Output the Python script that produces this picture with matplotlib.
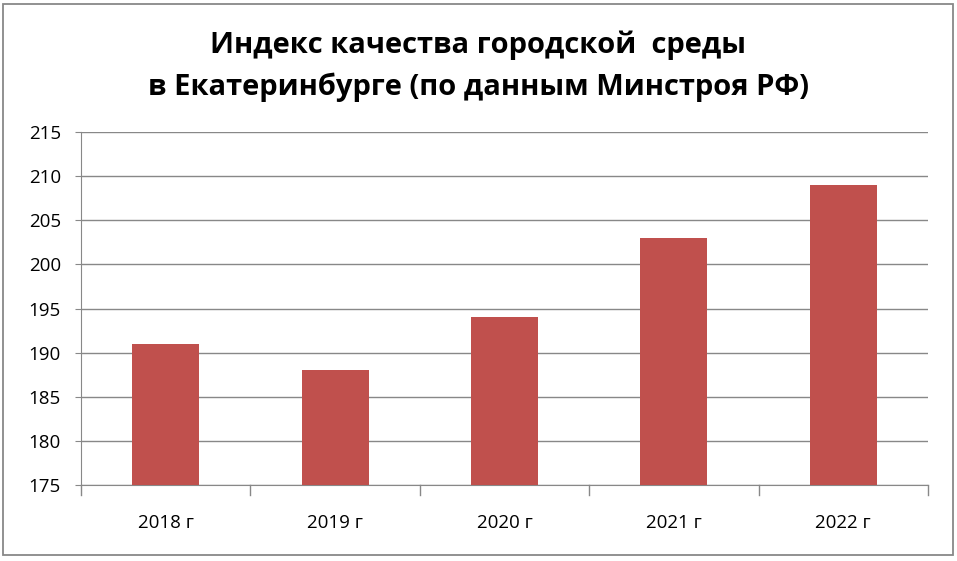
import matplotlib
import matplotlib.pyplot as plt
from matplotlib.patches import Rectangle

matplotlib.use("Agg")

# Data
years = ["2018 г", "2019 г", "2020 г", "2021 г", "2022 г"]
index_values = [191, 188, 194, 203, 209]
y_ticks = [175, 180, 185, 190, 195, 200, 205, 210, 215]

plt.rcParams["font.family"] = ["Open Sans", "DejaVu Sans"]

fig = plt.figure(figsize=(9.57, 5.61), dpi=100)
ax = fig.add_axes([81 / 957, 1 - 485 / 561, (928 - 81) / 957, (485 - 132) / 561])

# Outer chart border
fig.patches.append(Rectangle((3 / 957, 6 / 561), 950 / 957, 551 / 561,
                             transform=fig.transFigure, fill=False,
                             edgecolor="#888888", linewidth=1.3))

x = list(range(len(years)))
ax.bar(x, index_values, width=0.395, color="#C0504D", zorder=3, bottom=0)

ax.set_ylim(175, 215)
ax.set_xlim(-0.5, len(years) - 0.5)
ax.set_yticks(y_ticks)
ax.set_yticklabels([str(v) for v in y_ticks], fontsize=13.5)
ax.set_xticks(x)
ax.set_xticklabels(years, fontsize=13.5)
ax.tick_params(axis="x", length=0, pad=21)
ax.tick_params(axis="y", length=4.5, color="#888888", pad=10)

# Category boundary ticks on the x axis
for b in range(len(years) + 1):
    ax.plot([b - 0.5, b - 0.5], [175, 173.9], color="#888888", lw=1,
            clip_on=False, zorder=4)

ax.grid(axis="y", color="#888888", linewidth=1, zorder=0)
for side in ["top", "right"]:
    ax.spines[side].set_visible(False)
ax.spines["left"].set_color("#888888")
ax.spines["bottom"].set_color("#888888")

fig.text(0.5, 1 - 45 / 561, "Индекс качества городской  среды", ha="center", va="center",
         fontsize=21, fontweight="bold")
fig.text(0.5, 1 - 87 / 561, "в Екатеринбурге (по данным Минстроя РФ)", ha="center", va="center",
         fontsize=21, fontweight="bold")

fig.savefig("out.png", dpi=100)
plt.close(fig)
